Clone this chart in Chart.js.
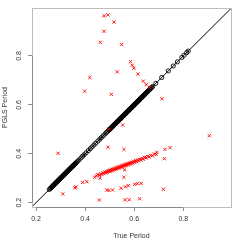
<!DOCTYPE html>
<html>
<head>
<meta charset="utf-8">
<script src="https://cdn.jsdelivr.net/npm/chart.js@4/dist/chart.umd.min.js"></script>
<style>
  html, body { margin: 0; padding: 0; background: #fff; }
  #period-chart { display: block; }
</style>
</head>
<body>
<canvas id="period-chart" width="240" height="240"></canvas>
<script>
// axis ticks
const tickValues = [0.2, 0.4, 0.6, 0.8];
const tickLabels = ["0.2", "0.4", "0.6", "0.8"];

// y = x reference line ends
const refLine = [0, 1];

// periods recovered exactly (PGLS == true), open circles
const matchedPeriods = [
  0.254, 0.258, 0.261, 0.264, 0.266, 0.268, 0.270, 0.272, 0.274, 0.276,
  0.278, 0.279, 0.281, 0.283, 0.284, 0.286, 0.288, 0.289, 0.291, 0.293,
  0.294, 0.296, 0.298, 0.299, 0.301, 0.303, 0.304, 0.306, 0.308, 0.309,
  0.311, 0.313, 0.314, 0.316, 0.318, 0.319, 0.321, 0.323, 0.324, 0.326,
  0.328, 0.329, 0.331, 0.333, 0.334, 0.336, 0.338, 0.339, 0.341, 0.343,
  0.344, 0.346, 0.348, 0.349, 0.351, 0.353, 0.354, 0.356, 0.358, 0.360,
  0.362, 0.364,
  0.369, 0.375, 0.383, 0.390, 0.396, 0.404, 0.413, 0.421, 0.428, 0.436,
  0.443, 0.452, 0.460, 0.466, 0.474, 0.481, 0.487, 0.492,
  0.496, 0.498, 0.500, 0.501, 0.503, 0.505, 0.506, 0.508, 0.510, 0.511,
  0.513, 0.515, 0.516, 0.518, 0.520, 0.521, 0.523, 0.525, 0.526, 0.528,
  0.530, 0.531, 0.533, 0.535, 0.536, 0.538, 0.540, 0.541, 0.543, 0.545,
  0.546, 0.548, 0.550, 0.551, 0.553, 0.555, 0.556, 0.558, 0.560, 0.561,
  0.563, 0.565, 0.566, 0.568, 0.570, 0.571, 0.573, 0.575, 0.576, 0.578,
  0.580, 0.581, 0.583, 0.585, 0.586, 0.588, 0.590, 0.591, 0.593, 0.595,
  0.596, 0.598, 0.600, 0.601, 0.603, 0.605, 0.606, 0.608, 0.610, 0.611,
  0.613, 0.615, 0.616, 0.618, 0.620, 0.621, 0.623, 0.625, 0.627, 0.629,
  0.631, 0.633, 0.635, 0.637, 0.639, 0.641, 0.643, 0.645, 0.647, 0.650,
  0.653, 0.656, 0.659, 0.662, 0.665, 0.668, 0.671, 0.675,
  0.688, 0.712, 0.739, 0.759, 0.776, 0.794, 0.803, 0.814, 0.820
];

// mismatched periods, red crosses
const missTrue = [
  0.477, 0.493, 0.518, 0.477, 0.462, 0.549, 0.585, 0.592, 0.599, 0.615,
  0.531, 0.419, 0.637, 0.649, 0.662, 0.398, 0.507, 0.713, 0.290, 0.493,
  0.497, 0.553, 0.906, 0.558, 0.725, 0.746, 0.723, 0.692, 0.561, 0.558,
  0.439, 0.461, 0.309, 0.358, 0.363, 0.390, 0.407, 0.458, 0.488, 0.497,
  0.512, 0.546, 0.564, 0.576, 0.602, 0.613, 0.628, 0.719, 0.563, 0.580,
  0.622,
  0.445, 0.452, 0.458, 0.463, 0.468, 0.472, 0.476, 0.480, 0.484, 0.487,
  0.490, 0.494, 0.497, 0.500, 0.503, 0.506, 0.509, 0.512, 0.515, 0.518,
  0.521, 0.524, 0.527, 0.530, 0.533, 0.536, 0.539, 0.542, 0.545, 0.548,
  0.551, 0.554, 0.557, 0.560, 0.563, 0.566, 0.569, 0.572, 0.575, 0.578,
  0.581, 0.584, 0.587, 0.590, 0.594, 0.598, 0.602, 0.606, 0.610, 0.614,
  0.618, 0.622, 0.627, 0.632, 0.637, 0.642, 0.648, 0.654, 0.660, 0.667,
  0.674, 0.682, 0.690
];
const missPgls = [
  0.964, 0.968, 0.939, 0.901, 0.856, 0.847, 0.777, 0.762, 0.750, 0.726,
  0.735, 0.712, 0.697, 0.683, 0.672, 0.656, 0.643, 0.625, 0.402, 0.427,
  0.500, 0.518, 0.474, 0.418, 0.418, 0.425, 0.380, 0.406, 0.334, 0.304,
  0.304, 0.300, 0.236, 0.261, 0.265, 0.283, 0.286, 0.211, 0.252, 0.250,
  0.252, 0.259, 0.265, 0.270, 0.275, 0.278, 0.279, 0.255, 0.212, 0.212,
  0.216,
  0.310, 0.315, 0.312, 0.318, 0.316, 0.322, 0.319, 0.325, 0.322, 0.328,
  0.324, 0.331, 0.327, 0.333, 0.329, 0.335, 0.331, 0.337, 0.333, 0.339,
  0.336, 0.342, 0.338, 0.344, 0.340, 0.346, 0.342, 0.348, 0.345, 0.351,
  0.346, 0.353, 0.349, 0.355, 0.351, 0.357, 0.353, 0.359, 0.356, 0.361,
  0.358, 0.364, 0.360, 0.366, 0.362, 0.369, 0.365, 0.372, 0.368, 0.375,
  0.371, 0.377, 0.375, 0.381, 0.378, 0.385, 0.383, 0.389, 0.387, 0.393,
  0.392, 0.399, 0.398
];

const AXIS_GREY = "#8a8a8a";
const BOX_GREY = "#bdbdbd";
const TEXT = "#333";

Chart.defaults.font.family = "'Liberation Sans', Arial, sans-serif";

// R-style box plus darker axis segments between first and last tick
const frame = {
  id: "frame",
  afterDraw(chart) {
    const { ctx, chartArea: a, scales } = chart;
    ctx.save();
    ctx.lineWidth = 1;
    ctx.strokeStyle = BOX_GREY;
    ctx.strokeRect(a.left + 0.5, a.top + 0.5, a.width, a.height);
    ctx.strokeStyle = AXIS_GREY;
    ctx.beginPath();
    ctx.moveTo(scales.x.getPixelForValue(tickValues[0]), a.bottom + 0.5);
    ctx.lineTo(scales.x.getPixelForValue(tickValues[tickValues.length - 1]), a.bottom + 0.5);
    ctx.moveTo(a.left + 0.5, scales.y.getPixelForValue(tickValues[0]));
    ctx.lineTo(a.left + 0.5, scales.y.getPixelForValue(tickValues[tickValues.length - 1]));
    ctx.stroke();
    ctx.restore();
  },
};

function fixTicks(scale) {
  scale.ticks = tickValues.map((v) => ({ value: v }));
}

new Chart(document.getElementById("period-chart"), {
  type: "scatter",
  data: {
    datasets: [
      {
        label: "miss",
        data: missTrue.map((t, i) => ({ x: t, y: missPgls[i] })),
        pointStyle: "crossRot",
        pointRadius: 2.3,
        pointBorderWidth: 0.9,
        pointBorderColor: "#ff0000",
        pointBackgroundColor: "#ff0000",
      },
      {
        label: "match",
        data: matchedPeriods.map((p) => ({ x: p, y: p })),
        pointStyle: "circle",
        pointRadius: 2.1,
        pointBorderWidth: 0.9,
        pointBorderColor: "#000",
        pointBackgroundColor: "rgba(0,0,0,0)",
      },
      {
        label: "y = x",
        data: refLine.map((v) => ({ x: v, y: v })),
        showLine: true,
        borderColor: "#000",
        borderWidth: 1,
        pointRadius: 0,
      },
    ],
  },
  options: {
    responsive: false,
    animation: false,
    events: [],
    layout: { padding: { top: 8, right: 9, left: 0, bottom: 0 } },
    plugins: { legend: { display: false }, tooltip: { enabled: false } },
    scales: {
      x: {
        type: "linear",
        min: 0.1837,
        max: 0.9943,
        afterBuildTicks: fixTicks,
        afterFit(scale) {
          scale.height = 33;
          scale.paddingLeft = 0;
          scale.paddingRight = 0;
        },
        border: { display: false },
        grid: { drawOnChartArea: false, drawTicks: true, tickLength: 4, color: AXIS_GREY, lineWidth: 1 },
        ticks: {
          autoSkip: false,
          maxRotation: 0,
          padding: 4,
          color: TEXT,
          font: { size: 7 },
          callback: (v, i) => tickLabels[i],
        },
        title: {
          display: true,
          text: "True Period",
          color: TEXT,
          font: { size: 7, lineHeight: 1 },
          padding: { top: 0, bottom: 0.5 },
        },
      },
      y: {
        type: "linear",
        min: 0.1824,
        max: 0.9963,
        afterBuildTicks: fixTicks,
        afterFit(scale) {
          scale.width = 32;
          scale.paddingTop = 0;
          scale.paddingBottom = 0;
        },
        border: { display: false },
        grid: { drawOnChartArea: false, drawTicks: true, tickLength: 4, color: AXIS_GREY, lineWidth: 1 },
        ticks: {
          autoSkip: false,
          minRotation: 90,
          maxRotation: 90,
          crossAlign: "center",
          padding: 4,
          color: TEXT,
          font: { size: 7 },
          callback: (v, i) => tickLabels[i],
        },
        title: {
          display: true,
          text: "PGLS Period",
          color: TEXT,
          font: { size: 7, lineHeight: 1 },
          padding: { top: 1.5, bottom: 0 },
        },
      },
    },
  },
  plugins: [frame],
});
</script>
</body>
</html>
